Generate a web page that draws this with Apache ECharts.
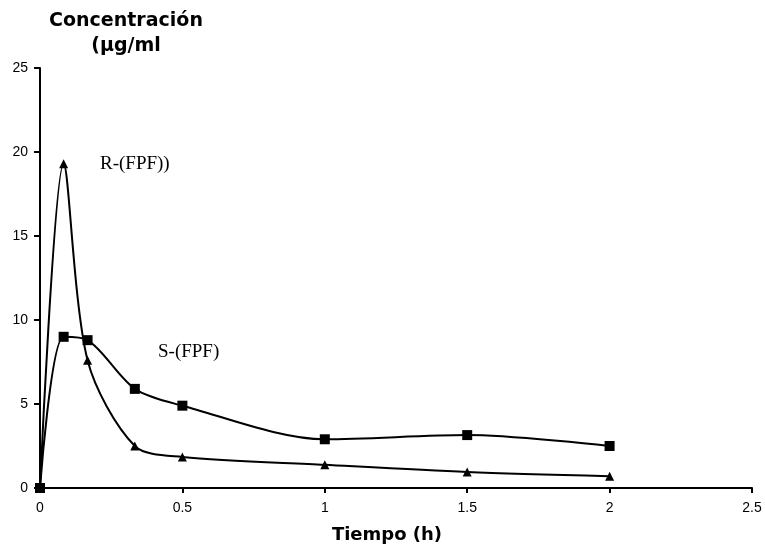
<!DOCTYPE html>
<html>
<head>
<meta charset="utf-8">
<script src="https://cdn.jsdelivr.net/npm/echarts@6/dist/echarts.min.js"></script>
<style>
  html, body { margin: 0; padding: 0; background: #fff; }
  #chart { width: 765px; height: 554px; }
</style>
</head>
<body>
<div id="chart"></div>
<script>
// tiempo (h)
const tiempo = [0, 0.083, 0.167, 0.333, 0.5, 1, 1.5, 2];
// concentración (µg/ml)
const sFPF = [0, 9.0, 8.8, 5.9, 4.9, 2.9, 3.15, 2.5];
const rFPF = [0, 19.3, 7.6, 2.5, 1.85, 1.38, 0.95, 0.7];

const pairs = (xs, ys) => xs.map((x, i) => [x, ys[i]]);

const chart = echarts.init(document.getElementById('chart'));
chart.setOption({
  backgroundColor: '#fff',
  animation: false,
  grid: { left: 40, right: 13, top: 68, bottom: 66 },
  xAxis: {
    type: 'value',
    min: 0,
    max: 2.5,
    interval: 0.5,
    axisLine: { lineStyle: { color: '#000', width: 2 } },
    axisTick: { lineStyle: { color: '#000', width: 2 }, length: 5 },
    axisLabel: { fontFamily: 'Liberation Sans', fontSize: 14, color: '#000', margin: 13 },
    splitLine: { show: false }
  },
  yAxis: {
    type: 'value',
    min: 0,
    max: 25,
    interval: 5,
    axisLine: { show: true, lineStyle: { color: '#000', width: 2 } },
    axisTick: { show: true, lineStyle: { color: '#000', width: 2 }, length: 6 },
    axisLabel: { fontFamily: 'Liberation Sans', fontSize: 14, color: '#000', margin: 12 },
    splitLine: { show: false }
  },
  graphic: [
    { type: 'text', x: 126, y: 21, style: { text: 'Concentración', font: 'bold 19px "DejaVu Sans"', fill: '#000', align: 'center', verticalAlign: 'middle' } },
    { type: 'text', x: 126, y: 46, style: { text: '(µg/ml', font: 'bold 19px "DejaVu Sans"', fill: '#000', align: 'center', verticalAlign: 'middle' } },
    { type: 'text', x: 387, y: 535, style: { text: 'Tiempo (h)', font: 'bold 18px "DejaVu Sans"', fill: '#000', align: 'center', verticalAlign: 'middle' } },
    { type: 'text', x: 100, y: 164, style: { text: 'R-(FPF))', font: '19px "Liberation Serif"', fill: '#000', align: 'left', verticalAlign: 'middle' } },
    { type: 'text', x: 158, y: 352, style: { text: 'S-(FPF)', font: '19px "Liberation Serif"', fill: '#000', align: 'left', verticalAlign: 'middle' } }
  ],
  series: [
    {
      name: 'S-(FPF)',
      type: 'line',
      data: pairs(tiempo, sFPF),
      smooth: 0.3,
      symbol: 'rect',
      symbolSize: 10,
      itemStyle: { color: '#000' },
      lineStyle: { color: '#000', width: 2 }
    },
    {
      name: 'R-(FPF)',
      type: 'line',
      data: pairs(tiempo, rFPF),
      smooth: 0.3,
      symbol: 'triangle',
      symbolSize: 9,
      itemStyle: { color: '#000' },
      lineStyle: { color: '#000', width: 2 }
    }
  ]
});
</script>
</body>
</html>
